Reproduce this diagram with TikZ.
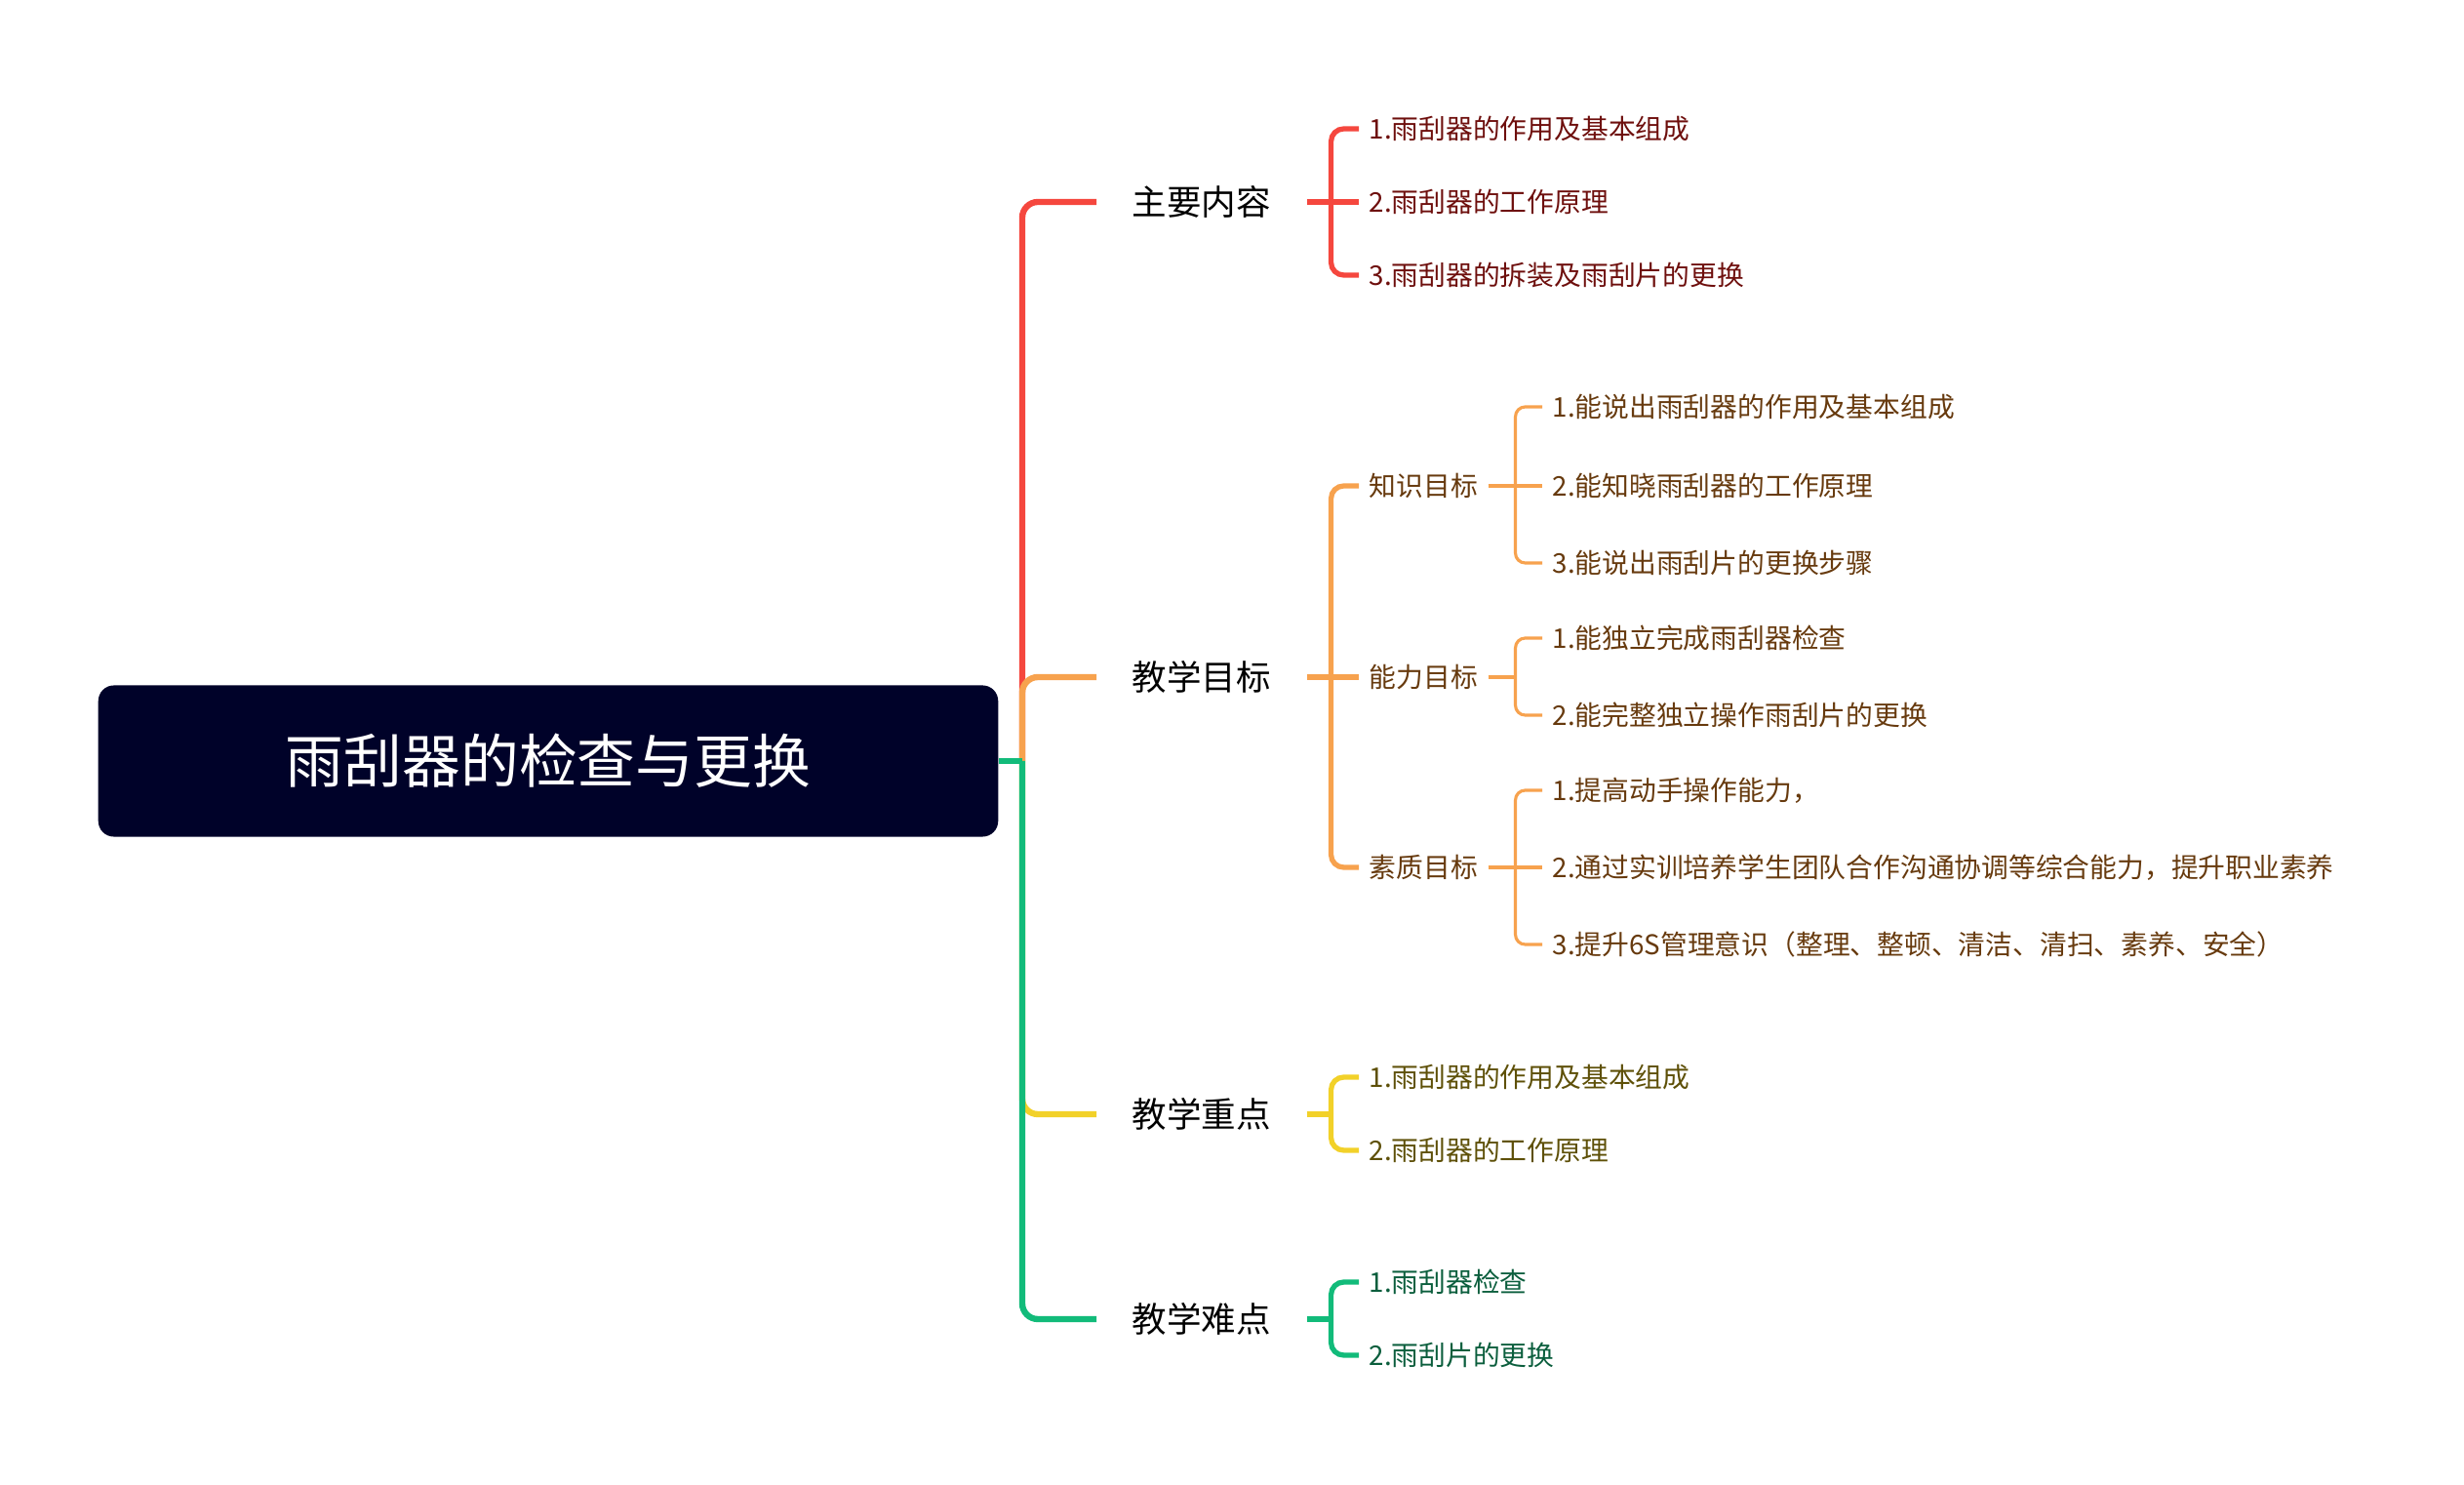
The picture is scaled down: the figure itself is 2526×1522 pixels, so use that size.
\documentclass[tikz,border=0pt]{standalone}
\usepackage{fontspec}
\setmainfont{Noto Sans CJK SC}
\usepackage{xcolor}
\usepackage{tikz}
\definecolor{mmred}{HTML}{F5473E}
\definecolor{mmorange}{HTML}{F7A24E}
\definecolor{mmyellow}{HTML}{F2D129}
\definecolor{mmgreen}{HTML}{12BB7A}
\definecolor{rootbg}{HTML}{000229}
\definecolor{txtred}{HTML}{6E0F0D}
\definecolor{txtbrown}{HTML}{673A0E}
\definecolor{txtolive}{HTML}{5E5008}
\definecolor{txtgreen}{HTML}{0B5E3D}
\tikzset{
    rootbox/.style={
        rectangle, rounded corners=0.16cm, fill=rootbg, text=white,
        minimum width=9.22cm, minimum height=1.55cm,
        font=\fontsize{17}{20}\selectfont
    },
    branchnode/.style={
        anchor=west, inner xsep=0.36cm, inner ysep=0pt,
        font=\fontsize{10.1}{12}\selectfont
    },
    leaf/.style={
        anchor=west, inner xsep=0.1cm, inner ysep=0pt,
        font=\fontsize{7.9}{9.5}\selectfont
    },
    trunk/.style={line width=1.8pt, rounded corners=0.16cm},
    bracket/.style={line width=1.5pt, rounded corners=0.13cm},
    twig/.style={line width=0.9pt, rounded corners=0.1cm}
}

\begin{document}
\begin{tikzpicture}[x=0.01cm, y=-0.01cm]
\useasboundingbox (0,0) rectangle (2526,1522);

% Root
\node[rootbox] (root) at (562,780) {雨刮器的检查与更换};
\coordinate (hub) at ([xshift=0.24cm]root.east);

% Main branches
\node[branchnode] (main) at (1124,207)  {主要内容};
\node[branchnode] (goal) at (1124,694)  {教学目标};
\node[branchnode] (key)  at (1124,1142) {教学重点};
\node[branchnode] (hard) at (1124,1352) {教学难点};

% Main content
\node[leaf, text=txtred] (main1) at (1393,132) {1.雨刮器的作用及基本组成};
\node[leaf, text=txtred] (main2) at (1393,207) {2.雨刮器的工作原理};
\node[leaf, text=txtred] (main3) at (1393,282) {3.雨刮器的拆装及雨刮片的更换};

% Teaching goals
\node[leaf, text=txtbrown] (know)    at (1393,498) {知识目标};
\node[leaf, text=txtbrown] (skill)   at (1393,694) {能力目标};
\node[leaf, text=txtbrown] (quality) at (1393,889) {素质目标};

\node[leaf, text=txtbrown] (know1) at (1581,417) {1.能说出雨刮器的作用及基本组成};
\node[leaf, text=txtbrown] (know2) at (1581,498) {2.能知晓雨刮器的工作原理};
\node[leaf, text=txtbrown] (know3) at (1581,577) {3.能说出雨刮片的更换步骤};

\node[leaf, text=txtbrown] (skill1) at (1581,654) {1.能独立完成雨刮器检查};
\node[leaf, text=txtbrown] (skill2) at (1581,733) {2.能完整独立操作雨刮片的更换};

\node[leaf, text=txtbrown] (quality1) at (1581,810) {1.提高动手操作能力，};
\node[leaf, text=txtbrown] (quality2) at (1581,889) {2.通过实训培养学生团队合作沟通协调等综合能力，提升职业素养};
\node[leaf, text=txtbrown] (quality3) at (1581,968) {3.提升6S管理意识（整理、整顿、清洁、清扫、素养、安全）};

% Key points
\node[leaf, text=txtolive] (key1) at (1393,1104) {1.雨刮器的作用及基本组成};
\node[leaf, text=txtolive] (key2) at (1393,1179) {2.雨刮器的工作原理};

% Difficult points
\node[leaf, text=txtgreen] (hard1) at (1393,1314) {1.雨刮器检查};
\node[leaf, text=txtgreen] (hard2) at (1393,1389) {2.雨刮片的更换};

% Junctions
\coordinate (mainj)    at ([xshift=0.25cm]main.east);
\coordinate (goalj)    at ([xshift=0.25cm]goal.east);
\coordinate (keyj)     at ([xshift=0.25cm]key.east);
\coordinate (hardj)    at ([xshift=0.25cm]hard.east);
\coordinate (knowj)    at ([xshift=0.28cm]know.east);
\coordinate (skillj)   at ([xshift=0.28cm]skill.east);
\coordinate (qualityj) at ([xshift=0.28cm]quality.east);

% Trunk lines
\draw[trunk, mmred]    (hub) |- (main.west);
\draw[trunk, mmorange] (hub) |- (goal.west);
\draw[trunk, mmyellow] (hub) |- (key.west);
\draw[trunk, mmgreen]  (hub) |- (hard.west);
\draw[trunk, mmgreen]  (root.east) -- (hub);

% Main content lines
\draw[bracket, mmred] (main.east) -- (mainj);
\draw[bracket, mmred] (mainj) |- (main1.west);
\draw[bracket, mmred] (mainj) -- (main2.west);
\draw[bracket, mmred] (mainj) |- (main3.west);

% Teaching goal lines
\draw[bracket, mmorange] (goal.east) -- (goalj);
\draw[bracket, mmorange] (goalj) |- (know.west);
\draw[bracket, mmorange] (goalj) -- (skill.west);
\draw[bracket, mmorange] (goalj) |- (quality.west);

\draw[twig, mmorange] (know.east) -- (knowj);
\draw[twig, mmorange] (knowj) |- (know1.west);
\draw[twig, mmorange] (knowj) -- (know2.west);
\draw[twig, mmorange] (knowj) |- (know3.west);

\draw[twig, mmorange] (skill.east) -- (skillj);
\draw[twig, mmorange] (skillj) |- (skill1.west);
\draw[twig, mmorange] (skillj) |- (skill2.west);

\draw[twig, mmorange] (quality.east) -- (qualityj);
\draw[twig, mmorange] (qualityj) |- (quality1.west);
\draw[twig, mmorange] (qualityj) -- (quality2.west);
\draw[twig, mmorange] (qualityj) |- (quality3.west);

% Key point lines
\draw[bracket, mmyellow] (key.east) -- (keyj);
\draw[bracket, mmyellow] (keyj) |- (key1.west);
\draw[bracket, mmyellow] (keyj) |- (key2.west);

% Difficult point lines
\draw[bracket, mmgreen] (hard.east) -- (hardj);
\draw[bracket, mmgreen] (hardj) |- (hard1.west);
\draw[bracket, mmgreen] (hardj) |- (hard2.west);

\end{tikzpicture}
\end{document}
